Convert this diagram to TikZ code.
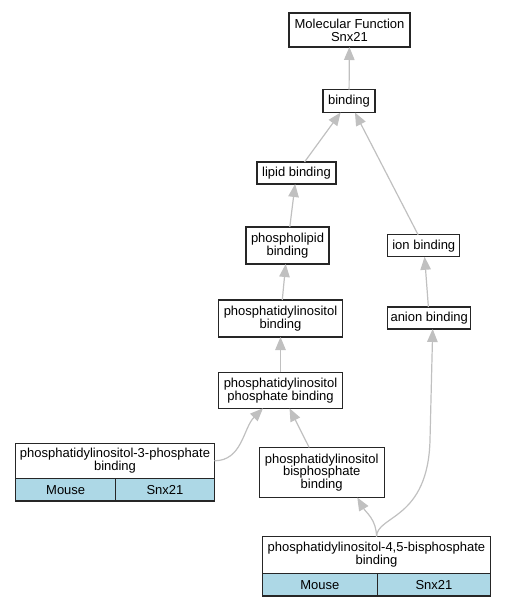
\documentclass[tikz,border=0pt]{standalone}
\usepackage{fontspec}
\setmainfont{Liberation Sans}
\usetikzlibrary{arrows.meta}
\definecolor{edgegray}{HTML}{C0C0C0}
\definecolor{cellblue}{HTML}{ADD8E6}

\begin{document}
\begin{tikzpicture}[x=1pt, y=-1pt,
    every node/.style={font=\fontsize{13}{12.8}\selectfont, outer sep=0pt},
    term/.style={draw=black!85, line width=1.3pt, fill=white, align=center, inner sep=0pt},
    cell/.style={draw=black!85, line width=1.1pt, fill=cellblue, inner sep=0pt, minimum height=22.7pt},
    isa/.style={draw=edgegray, line width=1.2pt, -{Triangle[length=13pt, width=10.5pt, fill=edgegray]}}]
    \useasboundingbox (0,0) rectangle (505,605);

    % terms
    \node[term, minimum width=121, minimum height=34] (mf) at (349.5, 30) {Molecular Function\\Snx21};
    \node[term, minimum width=52, minimum height=23] (binding) at (349, 101) {binding};
    \node[term, minimum width=79, minimum height=22] (lipid) at (296.5, 173) {lipid binding};
    \node[term, minimum width=83, minimum height=37] (phospholipid) at (287.5, 245.5) {phospholipid\\binding};
    \node[term, minimum width=124, minimum height=37] (pib) at (280.5, 318.5) {phosphatidylinositol\\binding};
    \node[term, minimum width=124, minimum height=36] (pipb) at (280.5, 390.3) {phosphatidylinositol\\phosphate binding};
    \node[term, minimum width=72, minimum height=22] (ion) at (423.8, 245.8) {ion binding};
    \node[term, minimum width=83, minimum height=22] (anion) at (429.2, 318) {anion binding};
    \node[term, minimum width=125, minimum height=50] (bisp) at (321.7, 472.5) {phosphatidylinositol\\bisphosphate\\binding};

    % annotated terms
    \node[term, minimum width=198.6, minimum height=35] (pi3p) at (115, 460.8) {phosphatidylinositol-3-phosphate\\binding};
    \node[cell, minimum width=100, anchor=north west] (pi3pmouse) at (pi3p.south west) {Mouse};
    \node[cell, minimum width=98.6, anchor=north west] (pi3psnx) at (pi3pmouse.north east) {Snx21};

    \node[term, minimum width=228.4, minimum height=36.6] (pi45) at (376.5, 555) {phosphatidylinositol-4,5-bisphosphate\\binding};
    \node[cell, minimum width=115, anchor=north west] (pi45mouse) at (pi45.south west) {Mouse};
    \node[cell, minimum width=113.4, anchor=north west] (pi45snx) at (pi45mouse.north east) {Snx21};

    % is_a edges
    \draw[isa] (binding) -- (mf);
    \draw[isa] (lipid) -- (binding);
    \draw[isa] (ion) -- (binding);
    \draw[isa] (phospholipid) -- (lipid);
    \draw[isa] (pib) -- (phospholipid);
    \draw[isa] (pipb) -- (pib);
    \draw[isa] (anion) -- (ion);
    \draw[isa] (bisp) -- (pipb);
    \draw[isa] (pi3p.east) to[out=0, in=-135] ([xshift=-17.5pt]pipb.south);
    \draw[isa] (pi45.north) to[out=90, in=-60] ([xshift=35.6pt]bisp.south);
    \draw[isa] (pi45.north) .. controls (377,515) and (428,520) .. (430,440) -- ([xshift=3.5pt]anion.south);
\end{tikzpicture}
\end{document}
